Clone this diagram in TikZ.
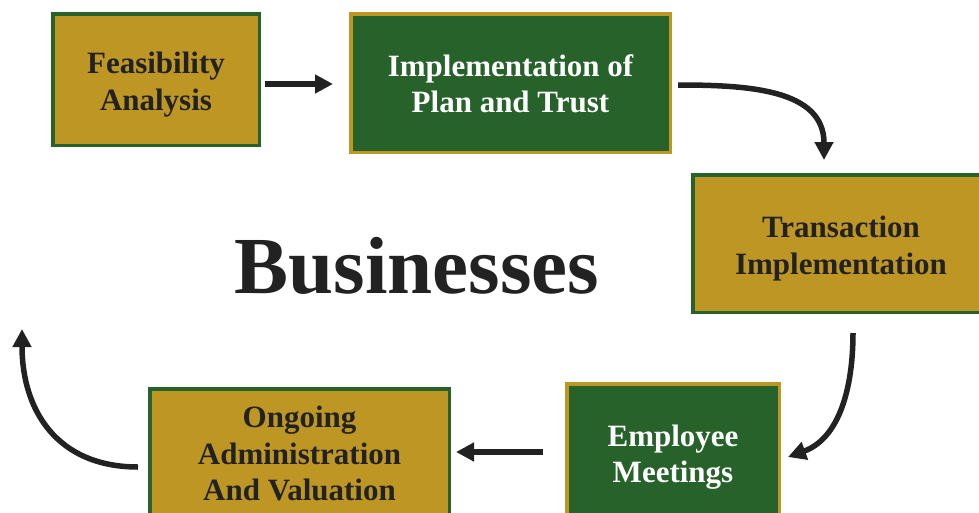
\documentclass[tikz,border=0pt]{standalone}
\usepackage{fontspec}
\setmainfont{Liberation Serif}
\usepackage{tikz}
\usetikzlibrary{arrows.meta,calc,positioning}

\definecolor{gold}{HTML}{BE9624}
\definecolor{leaf}{HTML}{27622B}
\definecolor{ink}{HTML}{222222}

% stacked box label, optionally dropped a little below centre
\newcommand{\boxlines}[2][0pt]{%
  \raisebox{-#1}[\height][\depth]{\begin{tabular}{@{}c@{}}#2\end{tabular}}}

\begin{document}
\begin{tikzpicture}[x=1pt, y=-1pt,
    goldbox/.style={draw=leaf, fill=gold, line width=3.5pt, text=ink,
      font=\fontsize{31}{36.5}\selectfont\bfseries},
    greenbox/.style={draw=gold, fill=leaf, line width=3.5pt, text=white,
      font=\fontsize{31}{36.5}\selectfont\bfseries},
    flow/.style={draw=ink, line width=5.5pt, -{Triangle[length=18pt,width=18pt]}}]
  \useasboundingbox (0,0) rectangle (979,512);

  \node[goldbox, minimum width=206.5pt, minimum height=131.5pt] (feas) at (156,79.5)
    {\boxlines[5pt]{Feasibility\\Analysis}};
  \node[greenbox, minimum width=319.5pt, minimum height=138.5pt] (impl) at (510.5,83)
    {\boxlines[4pt]{Implementation of\\Plan and Trust}};
  \node[goldbox, minimum width=296.5pt, minimum height=137.5pt] (trans) at (841,243.5)
    {\boxlines[5pt]{Transaction\\Implementation}};
  \node[greenbox, minimum width=212.5pt, minimum height=142.5pt] (emp) at (673,455)
    {\boxlines[2pt]{Employee\\Meetings}};
  \node[goldbox, minimum width=299.5pt, minimum height=136.5pt] (ong) at (299.5,457)
    {\boxlines{Ongoing\\Administration\\And Valuation}};

  \node[text=ink, font=\fontsize{81}{90}\selectfont\bfseries] (title) at (417,266) {Businesses};

  % cycle of arrows
  \coordinate (back) at (22,329);
  \draw[flow] ($(feas.east)+(4,4.5)$) -- ($(impl.west)+(-16,1)$);
  \draw[flow] ($(impl.east)+(6,2)$) to[out=0, in=90, looseness=1.1] ($(trans.north)+(-17,-13)$);
  \draw[flow] ($(trans.south)+(12,19)$) to[out=-90, in=20] ($(emp.east)+(7,2)$);
  \draw[flow] ($(emp.west)+(-22,-3)$) -- ($(ong.east)+(5,-5)$);
  \draw[flow] ($(ong.west)+(-10,10)$) to[out=180, in=-90, looseness=1.15] (back);
\end{tikzpicture}
\end{document}
